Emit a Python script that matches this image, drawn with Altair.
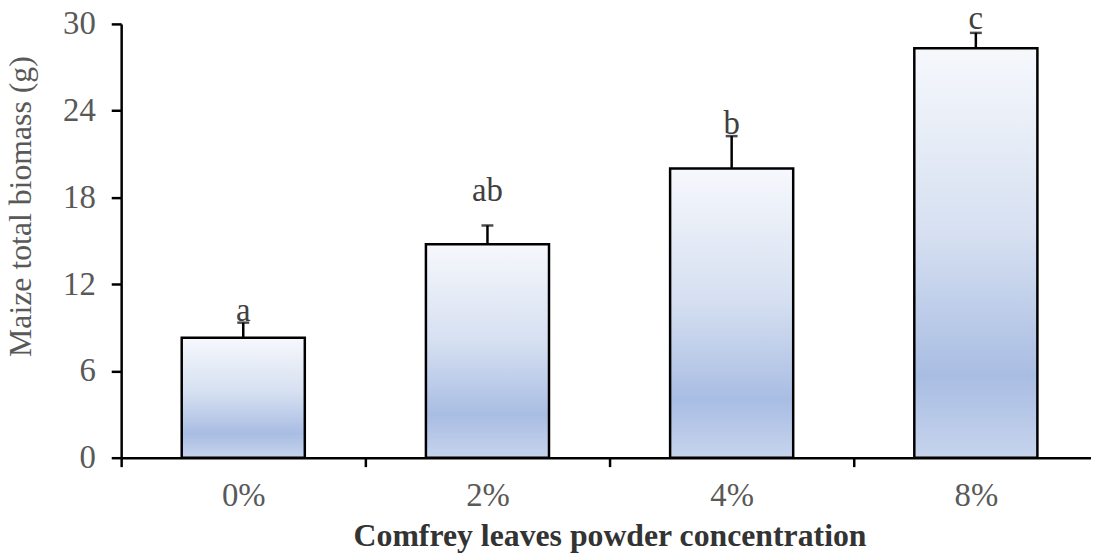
import altair as alt
import pandas as pd

categories = ["0%", "2%", "4%", "8%"]
means = [8.3, 14.76, 20.0, 28.32]
sds = [1.04, 1.30, 2.24, 1.06]
letters = ["a", "ab", "b", "c"]
letter_pos = [9.47, 17.78, 22.38, 29.66]
y_ticks = [0, 6, 12, 18, 24, 30]

df = pd.DataFrame({
    "conc": categories,
    "mean": means,
    "upper": [m + s for m, s in zip(means, sds)],
    "letter": letters,
    "lpos": letter_pos,
})

FONT = "Liberation Serif"
GRAY = "#595959"

x_enc = alt.X(
    "conc:N",
    sort=categories,
    scale=alt.Scale(range=[0, 984], paddingInner=0, paddingOuter=0),
    axis=alt.Axis(
        title="Comfrey leaves powder concentration",
        titleFont=FONT, titleFontSize=32, titleFontWeight="bold", titleColor="#333333",
        titleX=492, titleY=88, titleBaseline="alphabetic", titleAlign="center",
        labelFont=FONT, labelFontSize=33, labelColor=GRAY, labelPadding=13,
        labelAngle=0,
        tickBand="extent", tickSize=9, tickWidth=2.5, tickColor="black",
        domainColor="black", domainWidth=2.5,
    ),
)

y_scale = alt.Scale(domain=[0, 30], nice=False, zero=True)

bars = alt.Chart(df).mark_bar(
    width=alt.RelativeBandSize(124 / 246),
    stroke="black",
    strokeWidth=2.5,
    fill=alt.Gradient(
        gradient="linear",
        x1=0, x2=0, y1=0, y2=1,
        stops=[
            alt.GradientStop(color="#f6f8fc", offset=0),
            alt.GradientStop(color="#d6e0f1", offset=0.45),
            alt.GradientStop(color="#a9bde3", offset=0.8),
            alt.GradientStop(color="#c6d4ed", offset=1),
        ],
    ),
).encode(
    x=x_enc,
    y=alt.Y(
        "mean:Q",
        scale=y_scale,
        axis=alt.Axis(
            values=y_ticks,
            title="Maize total biomass (g)",
            titleFont=FONT, titleFontSize=32, titleFontWeight="normal", titleColor=GRAY,
            titleAngle=270, titleX=-91, titleY=183.5, titleBaseline="alphabetic", titleAlign="center",
            labelFont=FONT, labelFontSize=33, labelColor=GRAY, labelPadding=16,
            tickSize=10, tickWidth=2.5, tickColor="black",
            domainColor="black", domainWidth=2.5, grid=False,
        ),
    ),
)

err = alt.Chart(df).mark_rule(color="black", strokeWidth=2.5).encode(
    x=alt.X("conc:N", sort=categories),
    y=alt.Y("mean:Q", scale=y_scale),
    y2="upper:Q",
)

caps = alt.Chart(df).mark_tick(color="black", orient="horizontal", size=12, thickness=2.5).encode(
    x=alt.X("conc:N", sort=categories),
    y=alt.Y("upper:Q", scale=y_scale),
)

labels = alt.Chart(df).mark_text(
    font=FONT, fontSize=33, color="#404040", baseline="alphabetic", align="center"
).encode(
    x=alt.X("conc:N", sort=categories),
    y=alt.Y("lpos:Q", scale=y_scale),
    text="letter:N",
)

chart = alt.layer(bars, err, caps, labels).properties(
    width=977,
    height=437,
    autosize=alt.AutoSizeParams(type="none"),
    padding={"left": 114, "top": 14, "right": 0, "bottom": 97},
).configure_view(stroke=None)

chart.save("out.html", embed_options={"renderer": "svg", "actions": False})
